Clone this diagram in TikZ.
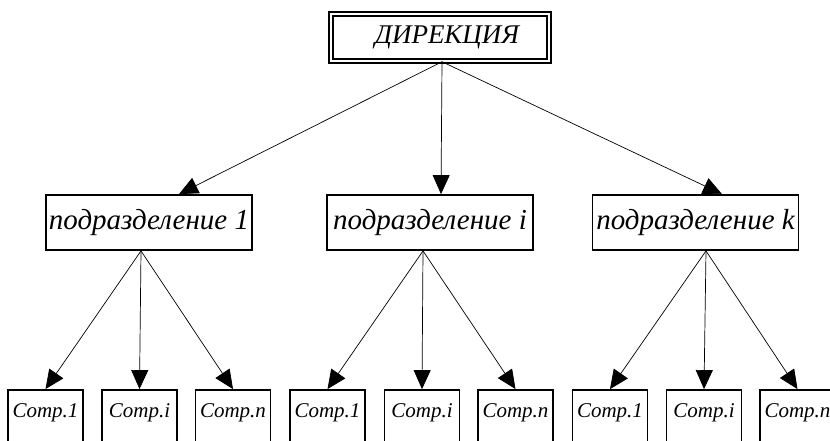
\documentclass[tikz,border=0pt]{standalone}
\usepackage{fontspec}
\setmainfont{Liberation Serif}[ItalicFont={Liberation Serif Italic}]
\usetikzlibrary{arrows.meta}

\begin{document}
\begin{tikzpicture}[x=1pt, y=-1pt,
		dirbox/.style={draw, double, line width=1.5pt, double distance=2.8pt, minimum width=218pt, minimum height=47pt, inner sep=0pt, font=\fontsize{27}{30}\selectfont\itshape},
		podbox/.style={draw, line width=1.8pt, minimum width=206pt, minimum height=55pt, inner sep=0pt, font=\fontsize{29}{31}\selectfont\itshape},
		compbox/.style={draw, line width=1.8pt, minimum width=75pt, text height=14pt, text depth=60pt, inner xsep=0pt, inner ysep=13pt, anchor=base, font=\fontsize{21}{23}\selectfont\itshape},
		arr/.style={-{Triangle[length=19pt, width=17pt]}, line width=0.7pt}]
		%%%%% START %%%%%
		
		\useasboundingbox (0, 0) rectangle (830, 441);
		\clip (0, 0) rectangle (830, 441);
		
		\node[dirbox] (dir) at (440, 37.5) {\hspace*{14pt}ДИРЕКЦИЯ};
		
		\node[podbox] (pod1) at (149, 222.5) {подразделение 1};
		\node[podbox] (podi) at (430, 222.5) {подразделение i};
		\node[podbox] (podk) at (695.5, 222.5) {подразделение k};
		
		\draw[arr] ([xshift=2pt]dir.south) -- ([xshift=30pt]pod1.north);
		\draw[arr] ([xshift=2pt]dir.south) -- ([xshift=11pt]podi.north);
		\draw[arr] ([xshift=2pt]dir.south) -- ([xshift=26.5pt]podk.north);
		
		\node[compbox] (c11) at (45.5, 417) {Comp.1};
		\node[compbox] (c1i) at (139.5, 417) {Comp.i};
		\node[compbox] (c1n) at (233, 417) {Comp.n};
		
		\node[compbox] (ci1) at (327.5, 417) {Comp.1};
		\node[compbox] (cii) at (422, 417) {Comp.i};
		\node[compbox] (cin) at (515.5, 417) {Comp.n};
		
		\node[compbox] (ck1) at (610, 417) {Comp.1};
		\node[compbox] (cki) at (704, 417) {Comp.i};
		\node[compbox] (ckn) at (797.5, 417) {Comp.n};
		
		\draw[arr] ([xshift=-8pt]pod1.south) -- (c11.north);
		\draw[arr] ([xshift=-8pt]pod1.south) -- (c1i.north);
		\draw[arr] ([xshift=-8pt]pod1.south) -- (c1n.north);
		
		\draw[arr] ([xshift=-7pt]podi.south) -- (ci1.north);
		\draw[arr] ([xshift=-7pt]podi.south) -- (cii.north);
		\draw[arr] ([xshift=-7pt]podi.south) -- (cin.north);
		
		\draw[arr] ([xshift=10.5pt]podk.south) -- (ck1.north);
		\draw[arr] ([xshift=10.5pt]podk.south) -- (cki.north);
		\draw[arr] ([xshift=10.5pt]podk.south) -- (ckn.north);
		
		%%%%% END %%%%%
	\end{tikzpicture}
\end{document}
